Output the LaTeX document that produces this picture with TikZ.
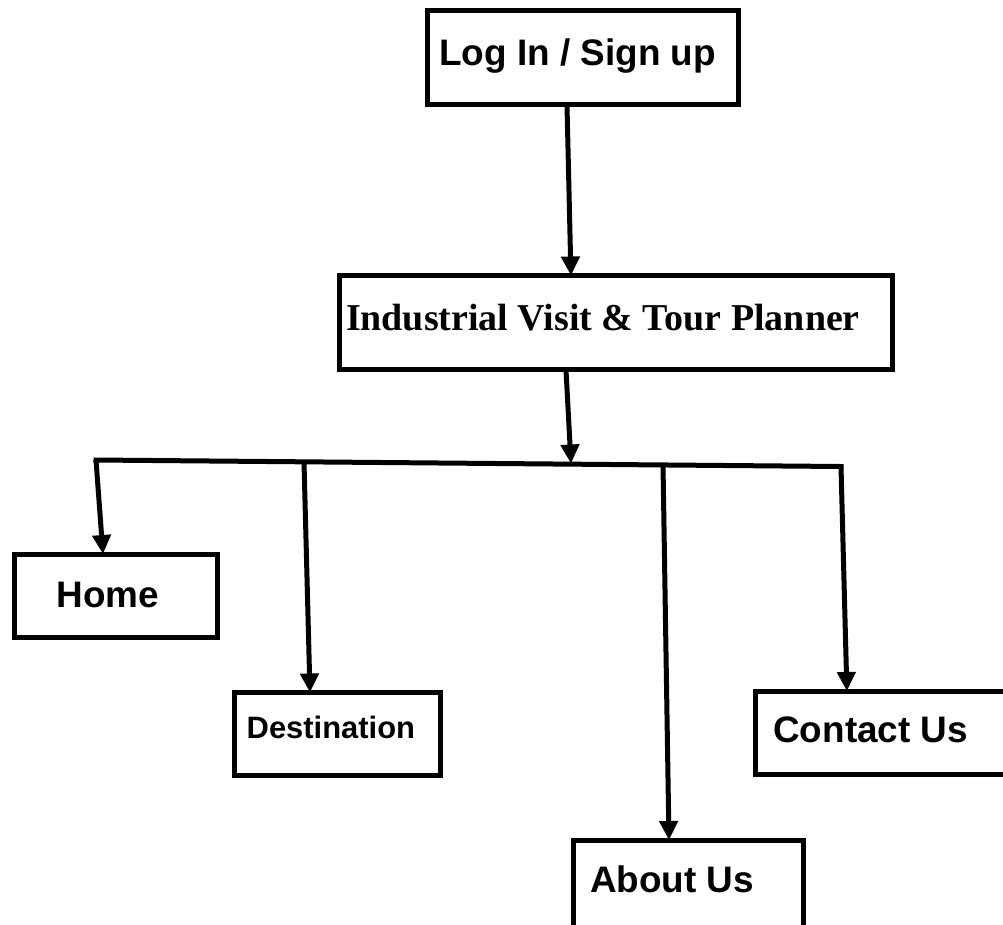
\documentclass[tikz,border=0pt]{standalone}
\usepackage{fontspec}
\setmainfont{Liberation Sans}
\newfontfamily\timesbold{Liberation Serif}
\usepackage{tikz}
\usetikzlibrary{arrows.meta}

\begin{document}
\begin{tikzpicture}[x=0.02cm, y=-0.02cm]
	\useasboundingbox (0,0) rectangle (1003,924);
	\begin{scope}[every node/.style = {rectangle, draw, line width=0.1cm,
			outer sep=0pt, inner ysep=0pt, anchor=north west, align=flush left,
			font=\bfseries\fontsize{21}{25}\selectfont}]
		\node [inner xsep=0.236cm, text width=5.748cm, text height=1.1cm, text depth=0.78cm] (L) at (427.5,10.5) {Log In / Sign up};
		\node [inner xsep=0.136cm, text width=10.794cm, text height=1.09cm, text depth=0.79cm,
			font=\timesbold\bfseries\fontsize{21.6}{25}\selectfont] (P) at (339.2,275.5) {Industrial Visit \& Tour Planner};
		\node [inner xsep=0.85cm, text width=2.366cm, text height=1.06cm, text depth=0.61cm] (H) at (14.2,554) {Home};
		\node [inner xsep=0.25cm, text width=3.632cm, text height=0.91cm, text depth=0.75cm,
			font=\bfseries\fontsize{17.6}{21}\selectfont] (D) at (234.2,692.5) {Destination};
		\node [inner xsep=0.334cm, text width=3.932cm, text height=1.04cm, text depth=0.86cm] (A) at (573.3,840) {About Us};
		\node [inner xsep=0.35cm, text width=4.42cm, text height=1.02cm, text depth=0.64cm] (C) at (755.8,691) {Contact Us};
	\end{scope}
	\coordinate (J0) at (96,460);
	\coordinate (J1) at (304,462);
	\coordinate (J2) at (571,463.5);
	\coordinate (J3) at (663,464.5);
	\coordinate (J4) at (841,466.5);
	\begin{scope}[>={Triangle[length=0.38cm, width=0.36cm]},
			every edge/.style={draw=black, line width=0.1cm}]
		\path [->] ([xshift=-0.32cm]L.south) edge ([xshift=-0.897cm]P.north);
		\path [->] ([xshift=-0.997cm]P.south) edge (J2);
		\path [line cap=rect] (J0) edge (J4);
		\path [->] (J0) edge ([xshift=-0.257cm]H.north);
		\path [->] (J1) edge ([xshift=-0.55cm]D.north);
		\path [->] (J3) edge ([xshift=-0.386cm]A.north);
		\path [->] (J4) edge ([xshift=-0.738cm]C.north);
	\end{scope}
\end{tikzpicture}
\end{document}
